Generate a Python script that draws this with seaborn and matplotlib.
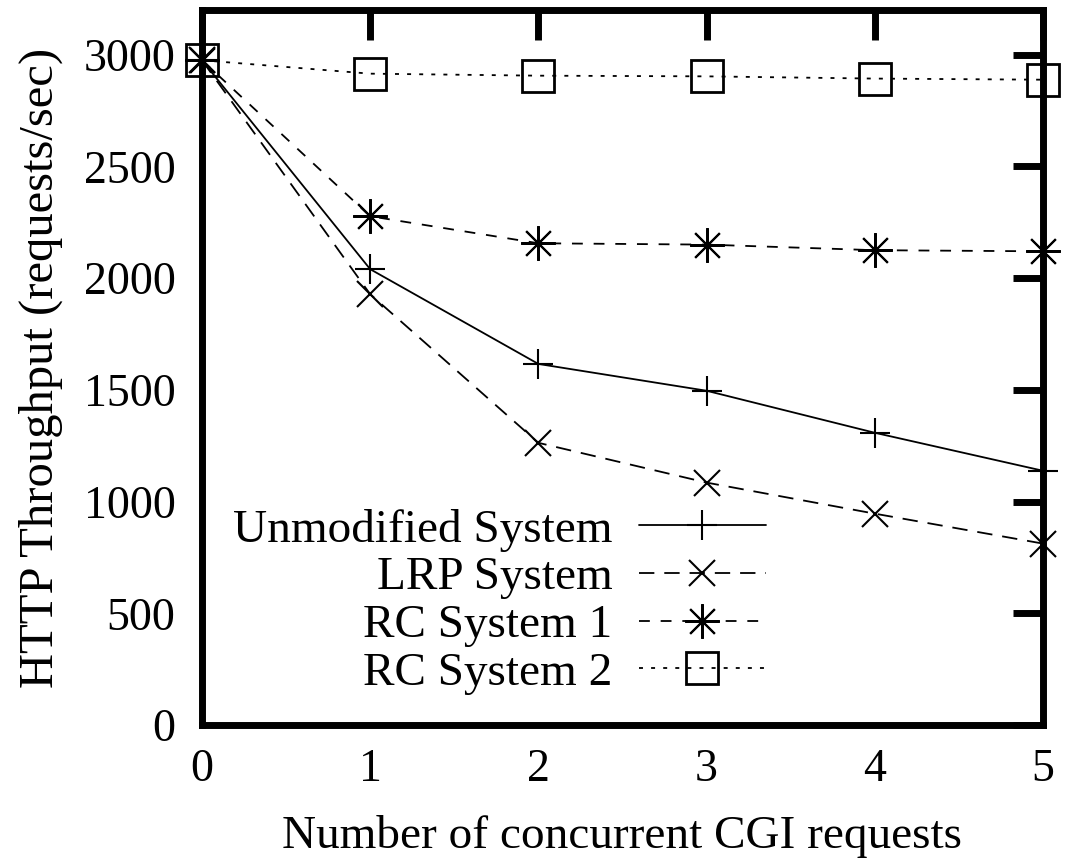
import numpy as np
import pandas as pd
import matplotlib
matplotlib.use("Agg")
import matplotlib.pyplot as plt
import seaborn as sns

# data
cgi_requests = [0, 1, 2, 3, 4, 5]
unmodified = [2975, 2040, 1616, 1496, 1308, 1138]
lrp = [2975, 1928, 1263, 1085, 946, 812]
rc_system1 = [2975, 2277, 2156, 2150, 2125, 2120]
rc_system2 = [2975, 2915, 2906, 2903, 2893, 2888]

series_names = ["Unmodified System", "LRP System", "RC System 1", "RC System 2"]
yticks = [0, 500, 1000, 1500, 2000, 2500, 3000]

df = pd.DataFrame({
    "x": cgi_requests * 4,
    "y": unmodified + lrp + rc_system1 + rc_system2,
    "series": np.repeat(series_names, len(cgi_requests)),
})

sns.set_theme(style="white")
plt.rcParams["font.family"] = ["Liberation Serif", "DejaVu Serif"]
plt.rcParams["text.color"] = "black"
plt.rcParams["axes.labelcolor"] = "black"
plt.rcParams["xtick.color"] = "black"
plt.rcParams["ytick.color"] = "black"

fig = plt.figure(figsize=(10.71, 8.68), dpi=100)
ax = fig.add_axes([0.1886, 0.1647, 0.7852, 0.8238])

# marker / line style per series
styles = {
    "Unmodified System": dict(linestyle="-", marker="+", markersize=21, mew=1.5),
    "LRP System": dict(linestyle=(0, (8.5, 5.5)), marker="x", markersize=19, mew=1.5),
    "RC System 1": dict(linestyle=(0, (6.0, 6.0)), marker=(8, 2, 0), markersize=25, mew=1.5),
    "RC System 2": dict(linestyle=(0, (2.2, 4.5)), marker="s", markersize=23, mew=2.0),
}

for name in series_names:
    st = styles[name]
    sub = df[df["series"] == name]
    sns.lineplot(data=sub, x="x", y="y", ax=ax, color="black", lw=1.3,
                 linestyle=st["linestyle"], marker=st["marker"],
                 markersize=st["markersize"], markeredgewidth=st["mew"],
                 markeredgecolor="black", markerfacecolor="none",
                 label=name, clip_on=False, zorder=3)

ax.set_xlim(0, 5)
ax.set_ylim(0, 3200)
ax.set_xticks(cgi_requests)
ax.set_yticks(yticks)

for side in ["left", "right", "top", "bottom"]:
    ax.spines[side].set_visible(True)
    ax.spines[side].set_linewidth(5)
    ax.spines[side].set_color("black")

ax.tick_params(axis="both", which="major", direction="in", length=21.5, width=5,
               color="black", labelcolor="black", top=True, right=True, labelsize=33)
ax.tick_params(axis="y", pad=19)
ax.tick_params(axis="x", pad=17)

ax.set_xlabel("Number of concurrent CGI requests", fontsize=34, color="black")
ax.set_ylabel("HTTP Throughput (requests/sec)", fontsize=35, color="black")
ax.xaxis.set_label_coords(0.5, -0.126)
ax.yaxis.set_label_coords(-0.165, 0.5)

leg = ax.legend(loc="lower right", bbox_to_anchor=(766 / 1071, 1 - 695 / 868),
                bbox_transform=fig.transFigure, frameon=False, markerfirst=False,
                fontsize=34, handlelength=2.7, handletextpad=0.55,
                labelspacing=0.1, borderpad=0, borderaxespad=0)
for t in leg.get_texts():
    t.set_color("black")

fig.savefig("out.png", dpi=100)
